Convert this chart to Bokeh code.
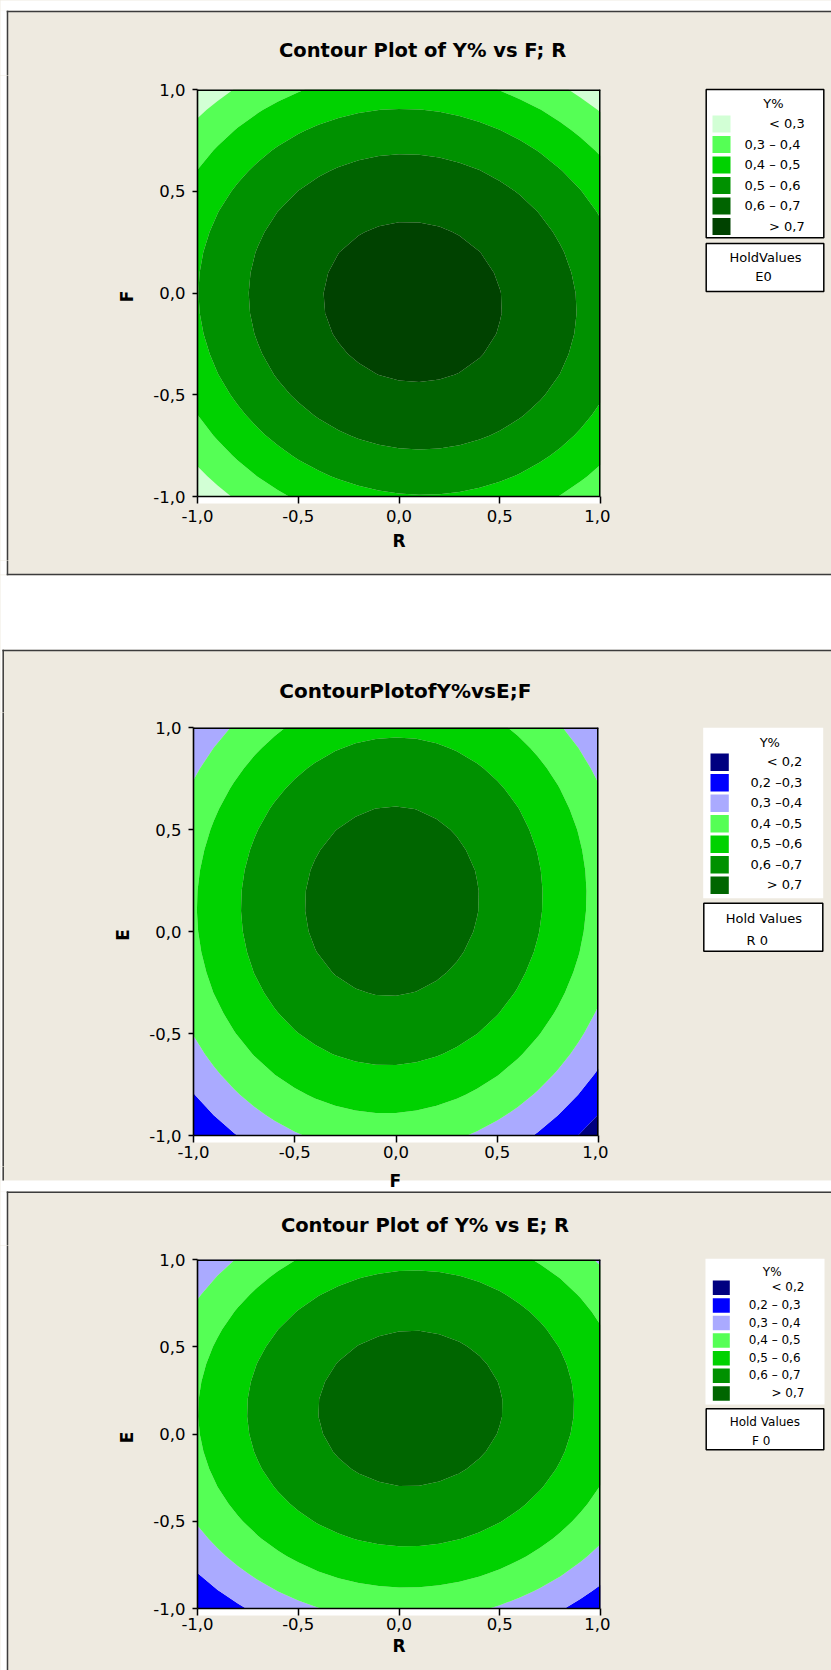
import numpy as np
from bokeh.plotting import figure
from bokeh.layouts import column, row
from bokeh.models import Range1d, FixedTicker, CustomJSTickFormatter
from bokeh.core.properties import value
from bokeh.embed import file_html
from bokeh.resources import INLINE

# ---------------------------------------------------------------- data
tick_values = [-1.0, -0.5, 0.0, 0.5, 1.0]
grid_values = np.linspace(-1.0, 1.0, 21)      # evaluation grid of the fitted surface

# Panel 1 : Y% vs F; R   (hold E = 0)
p1_title = "Contour  Plot of Y% vs F; R"
p1_xname, p1_yname = "R", "F"
p1_levels = [0.3, 0.4, 0.5, 0.6, 0.7]
p1_legend = ["<  0,3", "0,3  –  0,4", "0,4  –  0,5", "0,5  –  0,6", "0,6  –  0,7", ">  0,7"]
p1_hold = ["HoldValues", "E0"]
# quadratic response surface: const, x, y, x^2, y^2, x*y
p1_coef = [0.741, 0.028, -0.022, -0.215, -0.270, -0.024]

# Panel 2 : Y% vs E; F   (hold R = 0)
p2_title = "ContourPlotofY%vsE;F"
p2_xname, p2_yname = "F", "E"
p2_levels = [0.2, 0.3, 0.4, 0.5, 0.6, 0.7]
p2_legend = ["<  0,2", "0,2  –0,3", "0,3  –0,4", "0,4  –0,5", "0,5  –0,6", "0,6  –0,7", ">  0,7"]
p2_hold = ["Hold Values", "R 0"]
p2_coef = [0.745, -0.0135, 0.069, -0.270, -0.232, 0.015]

# Panel 3 : Y% vs E; R   (hold F = 0)
p3_title = "Contour Plot of Y% vs E; R"
p3_xname, p3_yname = "R", "E"
p3_levels = [0.2, 0.3, 0.4, 0.5, 0.6, 0.7]
p3_legend = ["<  0,2", "0,2  –  0,3", "0,3  –  0,4", "0,4  –  0,5", "0,5  –  0,6", "0,6  –  0,7", ">  0,7"]
p3_hold = ["Hold Values", "F 0"]
p3_coef = [0.741, 0.024, 0.068, -0.222, -0.234, 0.010]

# ---------------------------------------------------------------- styles / layout (page pixels)
BEIGE = "#EEEAE0"
DARK = "#3C3C3C"
FONT = "DejaVu Sans"
STRIP = 7
greens6 = ["#D2FFD5", "#55FF55", "#00D200", "#009100", "#006400", "#004200"]
bluegreens7 = ["#000080", "#0000FF", "#AAAAFF", "#55FF55", "#00D200", "#009100", "#006600"]

# panel outline: left, top, bottom, draw bottom line
P1 = (7.0, 11.0, 574.0, True)
P2 = (2.7, 650.0, 1180.0, False)
P3 = (7.0, 1191.75, 5000.0, False)


def rect(p, l, r, t, b, fill, line=None, lw=1.0):
    if line is None:
        p.quad(left=[l], right=[r], top=[t], bottom=[b], fill_color=fill, line_color=None)
    else:
        p.quad(left=[l], right=[r], top=[t], bottom=[b], fill_color=fill,
               line_color=line, line_width=lw)


def txt(p, x, y, s, size, align="center", style="normal"):
    p.text(x=[x], y=[y], text=[s], text_font=value(FONT), text_font_size=value(size),
           text_font_style=style, text_align=align, text_baseline="middle", text_color="black")


def deco_fig(x0, x1, y0, y1, panels):
    p = figure(width=x1 - x0, height=y1 - y0, x_range=Range1d(x0, x1), y_range=Range1d(y1, y0),
               min_border=0, toolbar_location=None, output_backend="svg", title=None,
               x_axis_type=None, y_axis_type=None, border_fill_color=BEIGE,
               background_fill_color=BEIGE, outline_line_color=None, frame_align=False)
    w = 0.75
    # white page outside the panels
    prev_bottom = -5000.0
    for pl, pt, pb, bline in panels:
        rect(p, -50, 2000, prev_bottom, pt - w, "white")
        rect(p, -50, pl - w, pt - w, pb, "white")
        prev_bottom = pb + (w if bline else 0)
    rect(p, -50, 2000, prev_bottom, 9000, "white")
    # panel frame lines
    for pl, pt, pb, bline in panels:
        rect(p, pl - w, 2000, pt - w, pt + w, DARK)                       # top line
        rect(p, pl - w, pl + w, pt - w, pb + (w if bline else 0), DARK)   # left line
        if bline:
            rect(p, pl - w, 2000, pb - w, pb + w, DARK)                   # bottom line
    return p


def legend_fig(x0, x1, y0, y1, panels, legend, colors, hold, L):
    p = deco_fig(x0, x1, y0, y1, panels)
    ll, lr, lt, lb = L["legend_box"]
    if L["legend_border"]:
        rect(p, ll, lr, lt, lb, "white", line="black", lw=1.5)
    else:
        rect(p, ll, lr, lt, lb, "white")
    txt(p, L["ytitle"][0], L["ytitle"][1], "Y%", L["font"])
    sx0, sx1 = L["swatch_x"]
    for i, (lab, col) in enumerate(zip(legend, colors)):
        cy = L["row0"] + i * L["row_step"]
        rect(p, sx0, sx1, cy - L["swatch_h"] / 2, cy + L["swatch_h"] / 2, col)
        txt(p, L["label_right"], cy - 0.5, lab, L["font"], align="right")
    hl, hr, ht, hb = L["hold_box"]
    rect(p, hl, hr, ht, hb, "white", line="black", lw=1.5)
    for (hx, hy), s in zip(L["hold_text"], hold):
        txt(p, hx, hy, s, L["font"])
    return p


def contour_fig(x0, x1, y0, y1, frame, xname, yname, levels, coef, colors, xstand, lstand):
    FL, FR, FT, FB = frame
    ystart = -1 - 2.0 * STRIP / (FB - FT)
    p = figure(width=x1 - x0, height=y1 - y0, x_range=Range1d(-1, 1), y_range=Range1d(ystart, 1),
               min_border_left=FL - x0, min_border_right=x1 - FR,
               min_border_top=FT - y0, min_border_bottom=y1 - (FB + STRIP),
               toolbar_location=None, output_backend="svg", title=None, frame_align=False,
               border_fill_color=BEIGE, background_fill_color=BEIGE, outline_line_color=None)
    gx, gy = np.meshgrid(grid_values, grid_values)
    b = coef
    z = b[0] + b[1] * gx + b[2] * gy + b[3] * gx ** 2 + b[4] * gy ** 2 + b[5] * gx * gy
    p.contour(grid_values, grid_values, z, levels=[-5.0] + list(levels) + [5.0],
              fill_color=colors, line_color=None)
    # white strip under the plot, plot border
    p.quad(left=[-1], right=[1], top=[-1], bottom=[ystart - 1], fill_color="white", line_color=None)
    p.segment(x0=[-1, 1], y0=[1, -1], x1=[1, 1], y1=[1, 1], line_color="black", line_width=3)
    p.segment(x0=[-1], y0=[-1], x1=[1], y1=[-1], line_color="black", line_width=1.6)

    fmt = CustomJSTickFormatter(code="return tick.toFixed(1).replace('.', ',');")
    for ax in (p.xaxis[0], p.yaxis[0]):
        ax.ticker = FixedTicker(ticks=tick_values)
        ax.formatter = fmt
        ax.major_label_text_font = FONT
        ax.major_label_text_font_size = "16.5px"
        ax.major_label_text_color = "black"
        ax.axis_label_text_font = FONT
        ax.axis_label_text_font_size = "17px"
        ax.axis_label_text_font_style = "bold"
        ax.axis_label_text_color = "black"
        ax.minor_tick_line_color = None
        ax.major_tick_line_color = "black"
        ax.major_tick_line_width = 1.5
    p.yaxis.bounds = (-1, 1)
    p.yaxis.axis_line_color = "black"
    p.yaxis.axis_line_width = 1.6
    p.yaxis.major_tick_in = 0
    p.yaxis.major_tick_out = 5
    p.yaxis.major_label_standoff = 7
    p.xaxis.axis_line_color = None
    p.xaxis.major_tick_in = STRIP
    p.xaxis.major_tick_out = 0
    p.xaxis.major_label_standoff = xstand
    if xname is not None:
        p.xaxis.axis_label = xname
        p.xaxis.axis_label_standoff = lstand
    p.yaxis.axis_label = yname
    p.yaxis.axis_label_standoff = 13
    p.xgrid.visible = False
    p.ygrid.visible = False
    return p


L1 = dict(legend_box=(705.7, 823.3, 89, 237.3), legend_border=True,
          ytitle=(773, 103), swatch_x=(712, 730), row0=123.5, row_step=20.5, swatch_h=17,
          label_right=808.3, font="13px",
          hold_box=(705.7, 823.3, 243, 291), hold_text=[(765, 256.7), (763, 276)])
L2 = dict(legend_box=(702.7, 822.7, 727.3, 897.7), legend_border=False,
          ytitle=(769.3, 742.3), swatch_x=(710, 728.3), row0=761.7, row_step=20.5, swatch_h=17.5,
          label_right=806, font="13px",
          hold_box=(703.3, 822.3, 902.7, 950.7), hold_text=[(763.3, 918.3), (756.7, 940)])
L3 = dict(legend_box=(705, 824, 1258.3, 1404), legend_border=False,
          ytitle=(771.7, 1271), swatch_x=(712.3, 729.3), row0=1287.3, row_step=17.6, swatch_h=14.5,
          label_right=807.7, font="12px",
          hold_box=(705.7, 823.3, 1408.3, 1449.3), hold_text=[(764.3, 1421.7), (760.7, 1440)])

# ---- band 0..75 : panel 1 top + title
t1 = deco_fig(0, 831, 0, 75, [P1])
txt(t1, 425.5, 49.7, p1_title, "19.5px", style="bold")
# ---- band 75..560 : panel 1 plot row
l1 = deco_fig(0, 110, 75, 560, [P1])
c1 = contour_fig(110, 610, 75, 560, (197, 600, 89, 496), p1_xname, p1_yname,
                 p1_levels, p1_coef, greens6, 6, 6)
r1 = legend_fig(610, 831, 75, 560, [P1], p1_legend, greens6, p1_hold, L1)
# ---- band 560..712 : panel 1 bottom, gap, panel 2 top + title
m12 = deco_fig(0, 831, 560, 712, [P1, P2])
txt(m12, 404.8, 690.4, p2_title, "20px", style="bold")
# ---- band 712..1166 : panel 2 plot row
l2 = deco_fig(0, 110, 712, 1166, [P2])
c2 = contour_fig(110, 608, 712, 1166, (192, 598, 727, 1135), None, p2_yname,
                 p2_levels, p2_coef, bluegreens7, 3, 0)
r2 = legend_fig(608, 831, 712, 1166, [P2], p2_legend, bluegreens7, p2_hold, L2)
# ---- band 1166..1245 : panel 2 x-axis name over the gap, panel 3 top + title
m23 = deco_fig(0, 831, 1166, 1245, [P2, P3])
txt(m23, 394.8, 1180, p2_xname, "17px", style="bold")
txt(m23, 424.5, 1225.2, p3_title, "19.5px", style="bold")
# ---- band 1245..1670 : panel 3 plot row
l3 = deco_fig(0, 110, 1245, 1670, [P3])
c3 = contour_fig(110, 610, 1245, 1670, (197, 600, 1259, 1608), p3_xname, p3_yname,
                 p3_levels, p3_coef, bluegreens7, 2, 3)
r3 = legend_fig(610, 831, 1245, 1670, [P3], p3_legend, bluegreens7, p3_hold, L3)

layout = column(t1, row(l1, c1, r1, spacing=0), m12,
                row(l2, c2, r2, spacing=0), m23,
                row(l3, c3, r3, spacing=0), spacing=0,
                styles={"background-color": BEIGE})
open("out.html", "w").write(file_html(layout, INLINE, title="Contour plots of Y%"))
